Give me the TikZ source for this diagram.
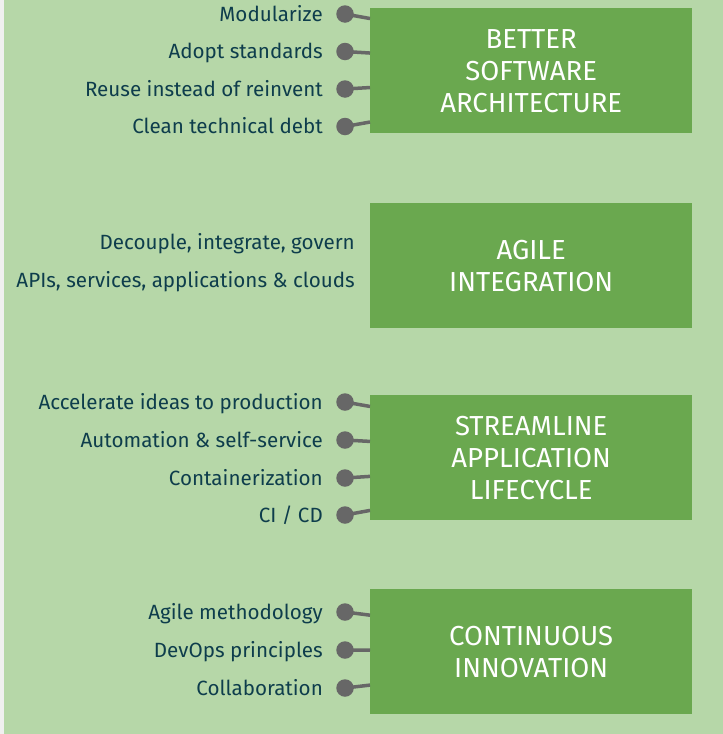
\documentclass[tikz,border=0pt]{standalone}
\usepackage{fontspec}
\setmainfont{Fira Sans}
\usetikzlibrary{calc}

\definecolor{pageGreen}{HTML}{B6D7A8}
\definecolor{goalGreen}{HTML}{6AA84F}
\definecolor{itemInk}{HTML}{0E3D4C}
\definecolor{pinGrey}{HTML}{676767}
\definecolor{edgeGrey}{HTML}{F0F0F0}

\tikzset{
    x=1pt, y=-1pt,
    goal/.style={rectangle, fill=goalGreen, draw=none, anchor=north west,
        minimum width=322pt, minimum height=125pt, inner sep=0pt,
        text=white, align=center, font=\fontsize{27.5}{32}\selectfont},
    item/.style={anchor=base east, inner sep=0pt, text=itemInk,
        font=\fontsize{20.6}{22}\selectfont},
    pin/.style={circle, fill=pinGrey, minimum size=17.5pt, inner sep=0pt},
    link/.style={draw=pinGrey, line width=3.5pt},
}

\begin{document}
\begin{tikzpicture}
    \useasboundingbox (0,0) rectangle (723,734);
    \fill[edgeGrey] (0,0) rectangle (4,734);
    \fill[pageGreen] (4,0) rectangle (723,734);

    % the four goals
    \node[goal] (arch) at (370,8) {BETTER\\SOFTWARE\\ARCHITECTURE};
    \node[goal] (integ) at (370,203) {AGILE\\INTEGRATION};
    \node[goal] (life) at (370,395) {STREAMLINE\\APPLICATION\\LIFECYCLE};
    \node[goal] (innov) at (370,589) {CONTINUOUS\\INNOVATION};

    % items with pins
    \foreach \name/\ypos/\txt/\goal in {
        mod/21/Modularize/arch, std/58.5/Adopt standards/arch,
        reuse/96/Reuse instead of reinvent/arch, debt/133.5/Clean technical debt/arch,
        accel/409/Accelerate ideas to production/life,
        auto/447/Automation \& self-service/life,
        cont/485/Containerization/life, cicd/522/{CI / CD}/life,
        agile/619/Agile methodology/innov, devops/657/DevOps principles/innov,
        collab/695/Collaboration/innov} {
        \node[item] (\name) at (323,\ypos) {\txt};
        \node[pin] (\name-pin) at (345,\ypos-7) {};
        \coordinate (\name-aim) at ($(\name-pin)!0.08!(\goal.center)$);
        \draw[link] (\name-pin.center) -- (\name-aim -| \goal.west);
    }

    % items without pins
    \node[item] (decouple) at (355,249) {Decouple, integrate, govern};
    \node[item] (apis) at (355,287) {APIs, services, applications \& clouds};
\end{tikzpicture}
\end{document}
